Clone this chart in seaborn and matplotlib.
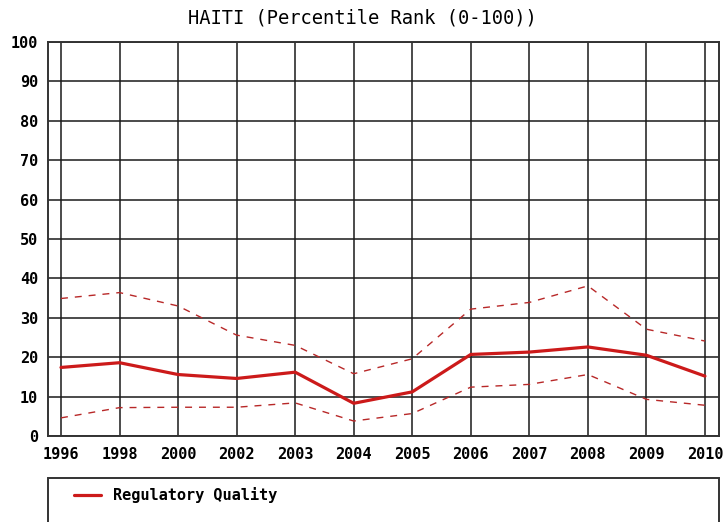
import numpy as np
import pandas as pd
import matplotlib
matplotlib.use("Agg")
import matplotlib.pyplot as plt
from matplotlib.patches import Rectangle
from matplotlib.lines import Line2D
import seaborn as sns

years = ["1996", "1998", "2000", "2002", "2003", "2004", "2005",
         "2006", "2007", "2008", "2009", "2010"]
estimate = [17.4, 18.6, 15.6, 14.6, 16.2, 8.3, 11.2, 20.7, 21.3, 22.6, 20.5, 15.2]
upper = [34.9, 36.4, 33.0, 25.6, 23.0, 15.8, 19.6, 32.2, 33.9, 38.1, 27.1, 24.1]
lower = [4.6, 7.2, 7.3, 7.3, 8.4, 3.8, 5.7, 12.4, 13.1, 15.6, 9.3, 7.8]
y_ticks = list(range(0, 101, 10))

sns.set_theme(style="white")
plt.rcParams["font.family"] = ["DejaVu Sans Mono", "DejaVu Sans"]

df = pd.DataFrame({
    "pos": np.arange(len(years)),
    "estimate": estimate,
    "upper": upper,
    "lower": lower,
})

fig = plt.figure(figsize=(7.24, 5.22), dpi=100)
ax = fig.add_axes([48 / 724, 1 - 436 / 522, (719 - 48) / 724, (436 - 42) / 522])

red = "#cc1a1a"
band = "#b82828"
sns.lineplot(data=df, x="pos", y="upper", ax=ax, color=band, linewidth=1.0,
             linestyle=(0, (5, 5)), zorder=3)
sns.lineplot(data=df, x="pos", y="lower", ax=ax, color=band, linewidth=1.0,
             linestyle=(0, (5, 5)), zorder=3)
sns.lineplot(data=df, x="pos", y="estimate", ax=ax, color=red, linewidth=2.3,
             zorder=4)

ax.set_xlim(-0.222, 11.24)
ax.set_ylim(0, 100)
ax.set_xticks(df["pos"])
ax.set_xticklabels(years)
ax.set_yticks(y_ticks)
ax.set_yticklabels([str(v) for v in y_ticks])
ax.set_xlabel("")
ax.set_ylabel("")

ax.grid(True, color="#1a1a1a", linewidth=1.1, zorder=1)
ax.set_axisbelow(True)
for s in ax.spines.values():
    s.set_color("#333333")
    s.set_linewidth(1.4)

ax.tick_params(axis="both", length=0, labelsize=11, colors="black")
ax.tick_params(axis="x", pad=8)
ax.tick_params(axis="y", pad=7)
for lab in ax.get_xticklabels() + ax.get_yticklabels():
    lab.set_fontweight("bold")

fig.text(0.5, 1 - 18 / 522, "HAITI (Percentile Rank (0-100))", ha="center",
         va="center", fontsize=13.5, color="black")

# legend panel below the plot
fig.patches.append(Rectangle((48 / 724, -0.02), (719 - 48) / 724, 0.02 + 1 - 478 / 522,
                             transform=fig.transFigure, fill=False,
                             edgecolor="#333333", linewidth=1.4))
fig.lines.append(Line2D([74 / 724, 101 / 724], [1 - 495 / 522, 1 - 495 / 522],
                        transform=fig.transFigure, color=red, linewidth=2.3))
fig.text(113 / 724, 1 - 495 / 522, "Regulatory Quality", ha="left", va="center",
         fontsize=11, fontweight="bold", color="black")

fig.savefig("out.png", dpi=100)
